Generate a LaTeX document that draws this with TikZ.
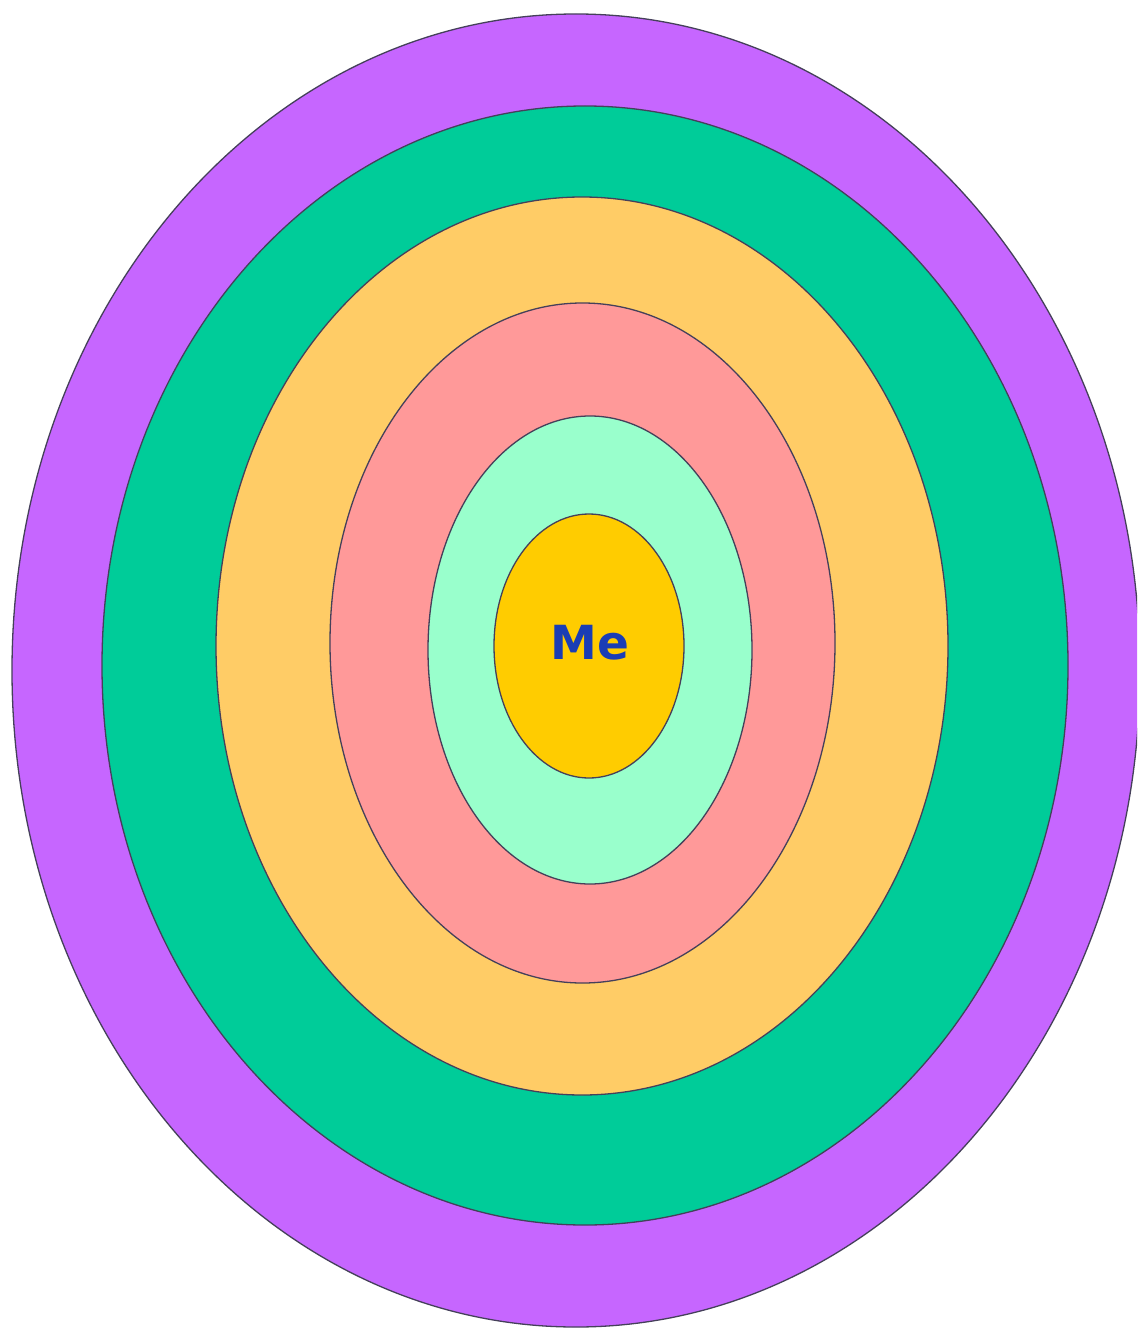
\documentclass[tikz,border=0pt]{standalone}
\usepackage{fontspec}
\newfontfamily\mefont{DejaVu Sans}
\definecolor{cpurple}{HTML}{C666FF}
\definecolor{cgreen}{HTML}{00CC99}
\definecolor{corange}{HTML}{FFCC66}
\definecolor{cpink}{HTML}{FF9999}
\definecolor{clight}{HTML}{99FFCC}
\definecolor{cyellow}{HTML}{FFCC00}
\definecolor{cline}{HTML}{45405A}
\definecolor{ctext}{HTML}{1A3DB5}
\tikzset{ring/.style={draw=cline, line width=1.3pt}}
\begin{document}
\begin{tikzpicture}[x=1pt,y=-1pt]
\useasboundingbox (0,0) rectangle (1137,1329);
\clip (0,0) rectangle (1137,1329);
\fill[white] (0,0) rectangle (1137,1329);
\filldraw[ring, fill=cpurple] (576,670.5) ellipse [x radius=564, y radius=656.5];
\filldraw[ring, fill=cgreen] (585,665.5) ellipse [x radius=483, y radius=559.5];
\filldraw[ring, fill=corange] (582,646) ellipse [x radius=366, y radius=449];
\filldraw[ring, fill=cpink] (582.5,643) ellipse [x radius=252.5, y radius=340];
\filldraw[ring, fill=clight] (590,650) ellipse [x radius=162, y radius=234];
\filldraw[ring, fill=cyellow] (589,646) ellipse [x radius=95, y radius=132];
\node[text=ctext, font={\mefont\bfseries\fontsize{47}{56}\selectfont}, inner sep=0pt] (me) at (590,643) {Me};
\end{tikzpicture}
\end{document}
